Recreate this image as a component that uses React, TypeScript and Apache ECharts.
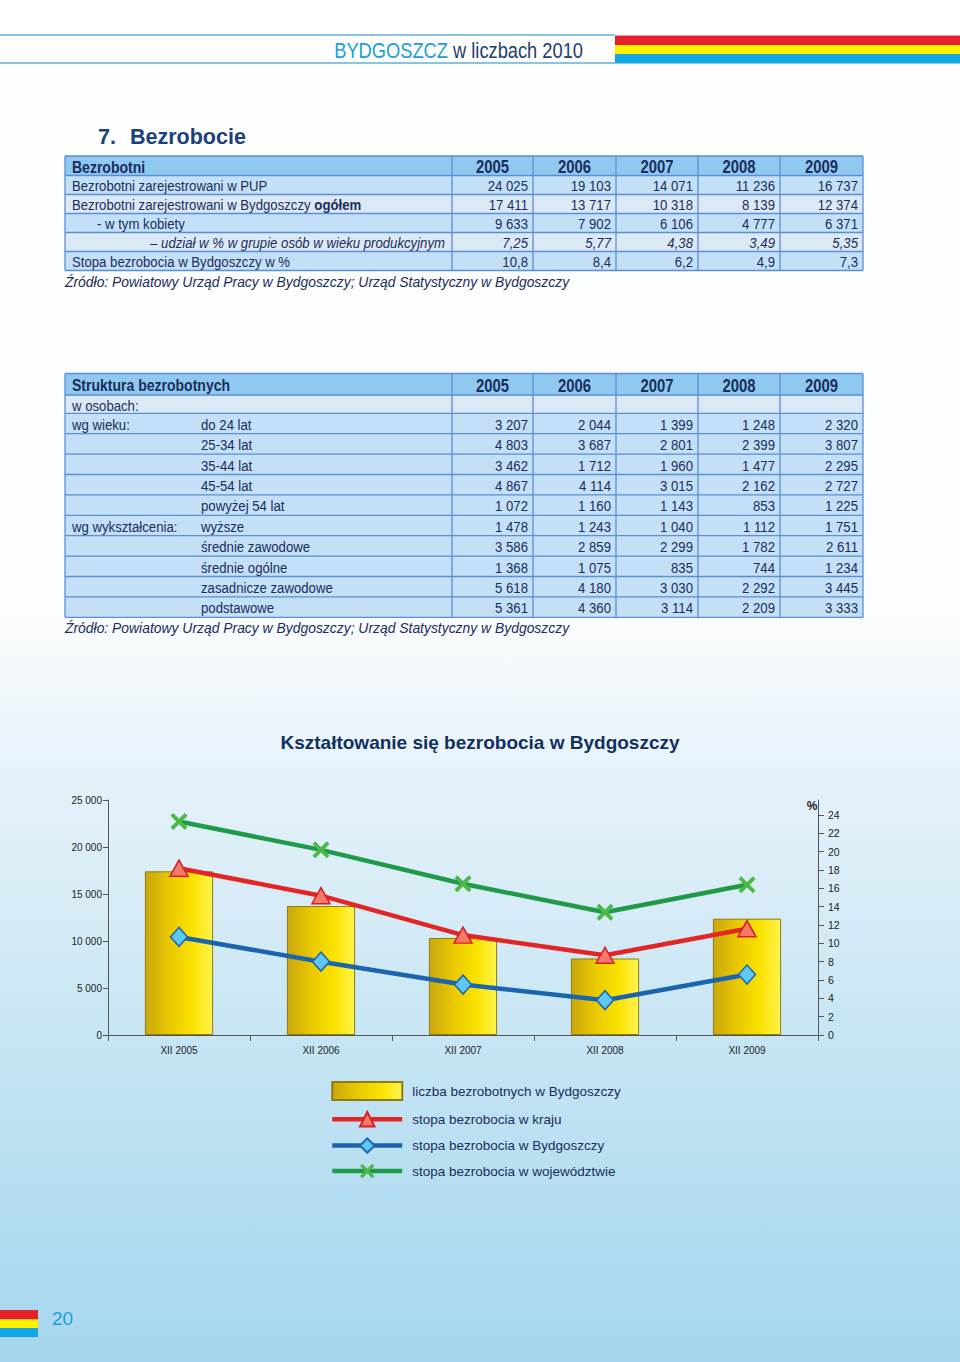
import React, { useEffect, useRef } from 'react';
import * as echarts from 'echarts';

// ---------- data: table 1 ----------
const years = ['2005', '2006', '2007', '2008', '2009'];
const registeredPUP = [24025, 19103, 14071, 11236, 16737];
const registeredTotal = [17411, 13717, 10318, 8139, 12374];
const registeredWomen = [9633, 7902, 6106, 4777, 6371];
const womenShare = [7.25, 5.77, 4.38, 3.49, 5.35];
const cityRateTable = [10.8, 8.4, 6.2, 4.9, 7.3];

// ---------- data: table 2 ----------
const ageLabels = ['do 24 lat', '25-34 lat', '35-44 lat', '45-54 lat', 'powyżej 54 lat'];
const ageUpTo24 = [3207, 2044, 1399, 1248, 2320];
const age25to34 = [4803, 3687, 2801, 2399, 3807];
const age35to44 = [3462, 1712, 1960, 1477, 2295];
const age45to54 = [4867, 4114, 3015, 2162, 2727];
const ageOver54 = [1072, 1160, 1143, 853, 1225];
const eduLabels = ['wyższe', 'średnie zawodowe', 'średnie ogólne', 'zasadnicze zawodowe', 'podstawowe'];
const eduHigher = [1478, 1243, 1040, 1112, 1751];
const eduSecondaryVocational = [3586, 2859, 2299, 1782, 2611];
const eduSecondaryGeneral = [1368, 1075, 835, 744, 1234];
const eduBasicVocational = [5618, 4180, 3030, 2292, 3445];
const eduPrimary = [5361, 4360, 3114, 2209, 3333];

// ---------- data: chart ----------
const chartCategories = ['XII 2005', 'XII 2006', 'XII 2007', 'XII 2008', 'XII 2009'];
const unemployedCity = [17411, 13717, 10318, 8139, 12374];
const rateCountry = [18.2, 15.2, 10.9, 8.7, 11.6];
const rateCity = [10.7, 8.0, 5.5, 3.8, 6.6];
const rateRegion = [23.3, 20.2, 16.5, 13.4, 16.4];
const leftAxisTicks = [0, 5000, 10000, 15000, 20000, 25000];
const rightAxisTicks = [0, 2, 4, 6, 8, 10, 12, 14, 16, 18, 20, 22, 24];

const SERIES_BAR = 'liczba bezrobotnych w Bydgoszczy';
const SERIES_COUNTRY = 'stopa bezrobocia w kraju';
const SERIES_CITY = 'stopa bezrobocia w Bydgoszczy';
const SERIES_REGION = 'stopa bezrobocia w województwie';
const SOURCE = 'Źródło: Powiatowy Urząd Pracy w Bydgoszczy; Urząd Statystyczny w Bydgoszczy';

const SANS = "'Liberation Sans', Arial, Helvetica, sans-serif";
const NAVY = '#1b2d5c';
const BORDER = '#5b8ed6';
const HDR_FILL = '#8fc9ef';
const ROW_A = '#c3e0f6';
const ROW_B = '#dbe9f7';
const COLX = [65, 452, 533, 616, 698, 780, 863];
const CELL_FS = 15.5;
const CONDENSE = 0.85;

const fmtInt = (n: number) => String(n).replace(/\B(?=(\d{3})+(?!\d))/g, ' ');
const fmtDec = (n: number, d: number) => n.toFixed(d).replace('.', ',');

function buildGraphic(): any[] {
  const g: any[] = [];
  const rect = (x: number, y: number, w: number, h: number, fill: any, z = 0) =>
    g.push({ type: 'rect', silent: true, z, shape: { x, y, width: w, height: h }, style: { fill } });
  const line = (x1: number, y1: number, x2: number, y2: number, stroke: string, lineWidth: number) =>
    g.push({ type: 'line', silent: true, shape: { x1, y1, x2, y2 }, style: { stroke, lineWidth } });
  const text = (x: number, y: number, t: string, style: any, sx = 1) =>
    g.push({
      type: 'text', silent: true, x, y, scaleX: sx,
      style: { text: t, fill: NAVY, fontFamily: SANS, fontSize: 13, verticalAlign: 'middle', ...style },
    });
  // condensed table text (scaled horizontally, like the narrow typeface of the original)
  const ctext = (x: number, y: number, t: string, style: any) => text(x, y, t, { fontSize: CELL_FS, ...style }, CONDENSE);

  // background
  rect(0, 0, 960, 1362, new echarts.graphic.LinearGradient(0, 0, 0, 1, [
    { offset: 0, color: '#ffffff' },
    { offset: 0.45, color: '#fbfdfe' },
    { offset: 0.52, color: '#eef6fb' },
    { offset: 0.6, color: '#e1f0f9' },
    { offset: 0.75, color: '#c9e6f4' },
    { offset: 0.9, color: '#b2dcf0' },
    { offset: 1, color: '#a6d6ed' },
  ]), -10);

  // header
  line(0, 35, 615, 35, '#62b2d6', 1.5);
  line(0, 63, 615, 63, '#62b2d6', 1.5);
  rect(615, 35.5, 345, 9.5, '#e8202a');
  rect(615, 45, 345, 9, '#fff200');
  rect(615, 54, 345, 9.5, '#13a8e4');
  text(583, 50, '{a|BYDGOSZCZ} {b|w liczbach} {b|2010}', {
    align: 'right',
    fontSize: 21.5,
    rich: {
      a: { fill: '#1aa0d4', fontSize: 21.5, fontFamily: SANS },
      b: { fill: '#1f3d70', fontSize: 21.5, fontFamily: SANS },
    },
  }, CONDENSE);

  // section title
  text(98, 137, '7.', { fontSize: 21.5, fontWeight: 'bold', fill: '#1d3f7c' });
  text(130, 137, 'Bezrobocie', { fontSize: 21.5, fontWeight: 'bold', fill: '#1d3f7c' });

  // ---- table drawing helper ----
  const drawTable = (bounds: number[], fills: string[]) => {
    for (let i = 0; i < fills.length; i++) rect(COLX[0], bounds[i], COLX[6] - COLX[0], bounds[i + 1] - bounds[i], fills[i]);
    bounds.forEach((y) => line(COLX[0], y, COLX[6], y, BORDER, 1.3));
    COLX.forEach((x) => line(x, bounds[0], x, bounds[bounds.length - 1], BORDER, 1.3));
  };
  const mid = (b: number[], i: number) => (b[i] + b[i + 1]) / 2 + 1;
  const yearHeaders = (b: number[]) =>
    years.forEach((y, j) => ctext((COLX[j + 1] + COLX[j + 2]) / 2, mid(b, 0), y, { align: 'center', fontSize: 17.5, fontWeight: 'bold' }));
  const numbers = (b: number[], row: number, vals: string[], extra: any = {}) =>
    vals.forEach((v, j) => ctext(COLX[j + 2] - 5, mid(b, row), v, { align: 'right', ...extra }));
  const bold = { fontSize: 16.5, fontWeight: 'bold' };

  // ---- table 1 ----
  const b1 = [156, 175.5, 194.5, 213.5, 232.5, 251.5, 270.5];
  drawTable(b1, [HDR_FILL, ROW_A, ROW_B, ROW_A, ROW_B, ROW_A]);
  ctext(72, mid(b1, 0), 'Bezrobotni', bold);
  yearHeaders(b1);
  ctext(72, mid(b1, 1), 'Bezrobotni zarejestrowani w PUP', {});
  numbers(b1, 1, registeredPUP.map(fmtInt));
  ctext(72, mid(b1, 2), '{n|Bezrobotni zarejestrowani w Bydgoszczy }{b|ogółem}', {
    rich: {
      n: { fill: NAVY, fontSize: CELL_FS, fontFamily: SANS },
      b: { fill: NAVY, fontSize: CELL_FS, fontFamily: SANS, fontWeight: 'bold' },
    },
  });
  numbers(b1, 2, registeredTotal.map(fmtInt));
  ctext(97, mid(b1, 3), '- w tym kobiety', {});
  numbers(b1, 3, registeredWomen.map(fmtInt));
  ctext(445, mid(b1, 4), '– udział w % w grupie osób w wieku produkcyjnym', { align: 'right', fontStyle: 'italic' });
  numbers(b1, 4, womenShare.map((v) => fmtDec(v, 2)), { fontStyle: 'italic' });
  ctext(72, mid(b1, 5), 'Stopa bezrobocia w Bydgoszczy w %', {});
  numbers(b1, 5, cityRateTable.map((v) => fmtDec(v, 1)));
  text(65, 282, SOURCE, { fontStyle: 'italic', fontSize: 13.9 });

  // ---- table 2 ----
  const b2 = [373.5, 395, 413.3];
  for (let i = 1; i <= 10; i++) b2.push(413.3 + i * 20.4);
  drawTable(b2, [HDR_FILL, ROW_B, ...Array(10).fill(ROW_A)]);
  ctext(72, mid(b2, 0), 'Struktura bezrobotnych', bold);
  yearHeaders(b2);
  ctext(72, mid(b2, 1), 'w osobach:', {});
  const ageData = [ageUpTo24, age25to34, age35to44, age45to54, ageOver54];
  const eduData = [eduHigher, eduSecondaryVocational, eduSecondaryGeneral, eduBasicVocational, eduPrimary];
  ctext(72, mid(b2, 2), 'wg wieku:', {});
  ageLabels.forEach((l, i) => {
    ctext(201, mid(b2, 2 + i), l, {});
    numbers(b2, 2 + i, ageData[i].map(fmtInt));
  });
  ctext(72, mid(b2, 7), 'wg wykształcenia:', {});
  eduLabels.forEach((l, i) => {
    ctext(201, mid(b2, 7 + i), l, {});
    numbers(b2, 7 + i, eduData[i].map(fmtInt));
  });
  text(65, 628, SOURCE, { fontStyle: 'italic', fontSize: 13.9 });

  // chart title
  text(480, 742, 'Kształtowanie się bezrobocia w Bydgoszczy', { align: 'center', fontSize: 19, fontWeight: 'bold', fill: '#12305f' });
  // right axis unit
  text(812, 806, '%', { align: 'center', fontSize: 12, fontWeight: 'bold', fill: '#222' });

  // page number
  rect(0, 1310, 38, 9.5, '#e8202a');
  rect(0, 1319.5, 38, 8.5, '#fff200');
  rect(0, 1328, 38, 9, '#13a8e4');
  text(52, 1318, '20', { fontSize: 19, fill: '#1a9fd8' });

  return g;
}

const X_PATH = 'path://M0,1.6 L1.6,0 L5,3.4 L8.4,0 L10,1.6 L6.6,5 L10,8.4 L8.4,10 L5,6.6 L1.6,10 L0,8.4 L3.4,5 Z';

function buildOption(): any {
  const barGradient = new echarts.graphic.LinearGradient(0, 0, 1, 0, [
    { offset: 0, color: '#c9a70f' },
    { offset: 0.35, color: '#e9c800' },
    { offset: 0.7, color: '#fae300' },
    { offset: 1, color: '#fff34d' },
  ]);
  const axisColor = '#555555';
  const labelStyle = { color: '#222222', fontSize: 10, fontFamily: SANS };
  return {
    animation: false,
    graphic: { elements: buildGraphic() },
    grid: { left: 108, right: 142, top: 800, bottom: 327, containLabel: false, outerBoundsMode: 'none' },
    legend: {
      orient: 'vertical',
      left: 330,
      top: 1081,
      padding: 0,
      itemWidth: 70,
      itemHeight: 18,
      itemGap: 10,
      lineStyle: { width: 4.5 },
      textStyle: { color: NAVY, fontSize: 13.5, fontFamily: SANS, padding: [0, 0, 0, 5] },
      data: [{ name: SERIES_BAR, icon: 'rect' }, SERIES_COUNTRY, SERIES_CITY, SERIES_REGION],
    },
    xAxis: {
      type: 'category',
      data: chartCategories,
      boundaryGap: true,
      axisLine: { show: true, lineStyle: { color: axisColor, width: 1 } },
      axisTick: { show: true, alignWithLabel: false, length: 6, lineStyle: { color: axisColor } },
      axisLabel: { ...labelStyle, margin: 10 },
      splitLine: { show: false },
    },
    yAxis: [
      {
        type: 'value',
        min: leftAxisTicks[0],
        max: leftAxisTicks[leftAxisTicks.length - 1],
        interval: leftAxisTicks[1] - leftAxisTicks[0],
        axisLine: { show: true, lineStyle: { color: axisColor } },
        axisTick: { show: true, length: 5, lineStyle: { color: axisColor } },
        axisLabel: { ...labelStyle, margin: 6, formatter: (v: number) => fmtInt(v) },
        splitLine: { show: false },
      },
      {
        type: 'value',
        position: 'right',
        min: 0,
        max: 25.64,
        axisLine: { show: true, lineStyle: { color: axisColor } },
        axisTick: { show: true, length: 6, lineStyle: { color: axisColor }, customValues: rightAxisTicks },
        axisLabel: { ...labelStyle, fontSize: 10.5, margin: 10, customValues: rightAxisTicks },
        splitLine: { show: false },
      },
    ],
    series: [
      {
        name: SERIES_BAR,
        type: 'bar',
        data: unemployedCity,
        barWidth: '48%',
        itemStyle: { color: barGradient, borderColor: '#8d7b14', borderWidth: 1 },
        z: 2,
      },
      {
        name: SERIES_COUNTRY,
        type: 'line',
        yAxisIndex: 1,
        data: rateCountry,
        symbol: 'triangle',
        symbolSize: [18, 16],
        lineStyle: { color: '#e42525', width: 4.5 },
        itemStyle: { color: '#f37a68', borderColor: '#d81f1f', borderWidth: 1.5 },
        z: 4,
      },
      {
        name: SERIES_CITY,
        type: 'line',
        yAxisIndex: 1,
        data: rateCity,
        symbol: 'diamond',
        symbolSize: [17, 19],
        lineStyle: { color: '#1b64ae', width: 4.5 },
        itemStyle: { color: '#5ec8f2', borderColor: '#1b64ae', borderWidth: 1.5 },
        z: 4,
      },
      {
        name: SERIES_REGION,
        type: 'line',
        yAxisIndex: 1,
        data: rateRegion,
        symbol: X_PATH,
        symbolSize: 17,
        symbolKeepAspect: true,
        lineStyle: { color: '#1f9a48', width: 4.5 },
        itemStyle: { color: '#4cb848' },
        z: 4,
      },
    ],
  };
}

export default function App() {
  const ref = useRef<HTMLDivElement>(null);
  useEffect(() => {
    document.body.style.margin = '0';
    const chart = echarts.init(ref.current as HTMLDivElement, null, { renderer: 'svg' });
    chart.setOption(buildOption());
    return () => chart.dispose();
  }, []);
  return <div ref={ref} style={{ width: 960, height: 1362 }} />;
}
